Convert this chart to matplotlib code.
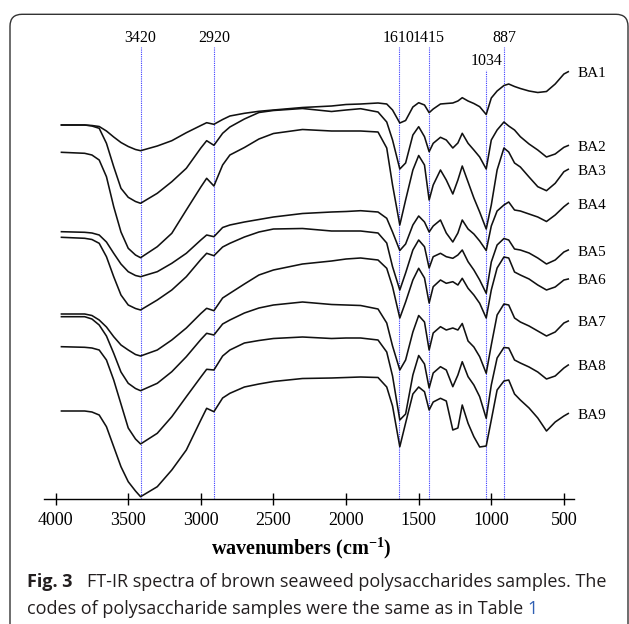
import numpy as np
import matplotlib
matplotlib.use("Agg")
import matplotlib.pyplot as plt
from matplotlib.patches import FancyBboxPatch
from matplotlib.transforms import IdentityTransform

plt.rcParams['font.family'] = 'Liberation Serif'
plt.rcParams['mathtext.fontset'] = 'custom'
plt.rcParams['mathtext.rm'] = 'Liberation Serif'
plt.rcParams['mathtext.bf'] = 'Liberation Serif:bold'

# wavenumber grid (cm-1) shared by all spectra
wn = [3960, 3800, 3750, 3700, 3650, 3600, 3550, 3500, 3450, 3415,
      3300, 3200, 3100, 3000, 2960, 2910, 2850, 2800, 2700, 2600,
      2500, 2300, 2100, 2000, 1900, 1780, 1720, 1680, 1630, 1590,
      1540, 1500, 1460, 1428, 1400, 1350, 1310, 1265, 1230, 1200,
      1160, 1120, 1080, 1035, 1000, 960, 913, 880, 840, 800,
      740, 680, 620, 560, 500, 470]

# stacked transmittance traces (a.u., offset)
ba1 = [375, 375, 374.5, 373.5, 369, 363, 357.5, 353.5, 350.5, 349.3,
       354, 359.3, 367.3, 374.5, 377.3, 375.7, 380.5, 384, 386.7, 388.7,
       390, 392.5, 394, 395.5, 396, 397, 396, 390, 377, 379.5,
       393, 397.3, 395, 387.3, 391, 396, 396.5, 397, 399, 402.3,
       399, 396.5, 393.3, 385.5, 402, 409, 414.5, 416, 413.5, 411.5,
       409, 407.5, 408.5, 416, 426, 428.3]
ba2 = [375, 375, 374, 371.7, 356.7, 333.3, 311.7, 302.7, 298.5, 296.7,
       306.7, 318.3, 331.7, 352, 359.3, 354.7, 366.7, 373, 381, 387.5,
       389.5, 391.5, 388.5, 390, 391.3, 388, 378, 360, 331, 337,
       365, 373.3, 363.3, 348.3, 356.7, 362.7, 360, 352, 357, 366.7,
       356.7, 350, 343, 331, 360, 370, 378, 374, 370, 363.3,
       356, 350, 343, 346, 352.7, 354.5]
ba3 = [347.7, 346.7, 345, 340, 323.3, 293.3, 268, 251.7, 245, 242.3,
       253.3, 266.7, 290, 313, 321.7, 314, 335, 345, 352.5, 361,
       366.5, 370.5, 369, 369, 369, 368, 352, 315, 275, 300,
       330, 344.5, 335, 300, 315, 330, 320, 306, 320, 334,
       318, 302, 288, 271, 295, 330, 352, 348, 337, 333,
       323, 313.3, 309.3, 316.7, 328.3, 330.7]
ba4 = [268.3, 267.7, 267, 265, 258, 246.7, 236, 228.3, 224.5, 223.3,
       228.3, 236.7, 246.7, 260, 265, 263.3, 272.5, 275, 278, 280.5,
       283, 286.5, 288, 288.5, 289.3, 288, 281.7, 268, 249.5, 256,
       275, 284, 278, 268, 274, 280, 267, 258, 267, 280,
       271, 266, 259, 249.5, 274, 289, 295, 298, 290, 289,
       286, 283, 278.5, 285, 293.3, 296.7]
ba5 = [262.7, 261.7, 260.5, 256.7, 243.3, 223.3, 205, 195, 191.5, 190,
       200, 210, 223.3, 240.5, 246.7, 244.3, 253, 256.7, 263, 268,
       271, 271.5, 269, 269, 269, 267, 257, 233.3, 210, 227,
       250, 260, 253.3, 232, 243.3, 246.7, 243.3, 241.7, 245, 250,
       238.3, 230, 220, 206.7, 238, 255, 261.5, 260, 251, 250,
       247, 242, 236, 240, 248, 250]
ba6 = [186, 186, 184.5, 180, 173, 163.3, 155, 150, 145.5, 144,
       150, 160, 172, 186.5, 191.7, 189.3, 202, 206.7, 216, 225,
       230, 236, 239, 241, 242, 240, 231.7, 213.3, 182, 198,
       220, 231.7, 222, 197, 213.3, 220, 216.7, 218.3, 215, 221.7,
       211.7, 205, 196.7, 182, 210, 232, 243, 242, 228, 225,
       221, 215, 210, 213, 220, 221]
ba7 = [183.3, 183.3, 181, 175, 164, 146.7, 128, 116.7, 111.5, 109.3,
       116.7, 128.3, 143.3, 160.5, 166.7, 165, 176, 180, 187, 192,
       195, 198, 195.5, 195, 194.5, 191, 177, 154, 130, 140,
       168, 184.5, 178, 150, 167, 173.3, 170, 172, 170, 176.5,
       159, 153, 143.3, 126.7, 155, 185, 196, 195, 182, 178,
       174, 169, 164, 168, 177, 179]
ba8 = [153.3, 152.7, 152, 150, 140, 120, 96, 72, 61, 56,
       66.7, 83.3, 103.3, 123, 130.7, 130, 144, 150, 157, 159.5,
       161.5, 163, 161.5, 162, 162, 160, 148, 124, 80, 86,
       125, 144.5, 136, 112, 127, 133.3, 130, 113.3, 125, 138.3,
       123.3, 115, 103.3, 81.7, 115, 142, 152.5, 152, 140, 137,
       133, 128, 121, 124, 132, 135]
ba9 = [89, 89, 88, 85, 73.3, 53.3, 33.3, 18.3, 9, 3.3,
       13.3, 30, 50, 80, 91.7, 88.3, 102, 106.7, 113, 116,
       118.5, 121.5, 122, 122.5, 123, 122.5, 113, 94, 53.3, 77,
       106, 113, 108.3, 90, 98, 101.7, 99, 70, 72, 95,
       76.7, 63.3, 53, 54, 80, 110, 119, 120, 106, 100,
       92, 82, 69, 78, 84, 86.5]

samples = ["BA1", "BA2", "BA3", "BA4", "BA5", "BA6", "BA7", "BA8", "BA9"]
spectra = [ba1, ba2, ba3, ba4, ba5, ba6, ba7, ba8, ba9]

peak_labels = ["3420", "2920", "1610", "1415", "1034", "887"]
peak_pos = [3415, 2910, 1636, 1428, 1035, 913]
peak_top = [453, 453, 453, 453, 430, 453]

xticks = [4000, 3500, 3000, 2500, 2000, 1500, 1000, 500]

W, H = 629, 624
fig = plt.figure(figsize=(W / 100, H / 100), dpi=100)
ax = fig.add_axes([44 / W, 1 - 499.3 / H, 530 / W, 479.3 / H])
ax.set_xlim(4080, 430.5)
ax.set_ylim(0.7, 480)

# marker lines for the assigned bands
for lab, p, top in zip(peak_labels, peak_pos, peak_top):
    ax.plot([p, p], [0.7, top], color='#3b3bff', lw=0.8, ls=(0, (1, 1)), zorder=1)
    ax.text(p, top + 9, lab, ha='center', va='center', fontsize=11.5)

for name, y in zip(samples, spectra):
    ax.plot(wn, y, color='#111111', lw=1.15, zorder=2)
    ax.text(404, y[-1] - 2, name, ha='left', va='center', fontsize=11, clip_on=False)

for s in ['left', 'top', 'right']:
    ax.spines[s].set_visible(False)
ax.spines['bottom'].set_linewidth(1.0)
ax.set_yticks([])
ax.set_xticks(xticks)
ax.tick_params(axis='x', direction='inout', length=8, width=1.0, pad=5, labelsize=13)

fig.text(301 / W, 1 - 554 / H, r'wavenumbers (cm$^{\mathbf{-1}}$)', ha='center',
         va='baseline', fontsize=14.5, fontweight='bold')

# caption
cap_col = '#231f20'
fig.text(27 / W, 1 - 587.3 / H, "Fig. 3", family='Open Sans', weight='bold',
         fontsize=13, va='baseline', color=cap_col)
fig.text(87.3 / W, 1 - 587.3 / H,
         "FT-IR spectra of brown seaweed polysaccharides samples. The",
         family='Open Sans', fontsize=13, va='baseline', color=cap_col)
line2 = fig.text(27 / W, 1 - 614.3 / H,
                 "codes of polysaccharide samples were the same as in Table ",
                 family='Open Sans', fontsize=13, va='baseline', color=cap_col)
r = fig.canvas.get_renderer()
bb = line2.get_window_extent(renderer=r)
fig.text(bb.x1 / W, 1 - 614.3 / H, "1", family='Open Sans', fontsize=13,
         va='baseline', color='#2f5fb3')

# rounded frame around the figure
frame = FancyBboxPatch((10, -20), 618, H - 14.3 + 20,
                       boxstyle="round,pad=0,rounding_size=12",
                       transform=IdentityTransform(), fill=False,
                       edgecolor='#333333', lw=1.0)
fig.patches.append(frame)

fig.savefig("out.png", dpi=100)
